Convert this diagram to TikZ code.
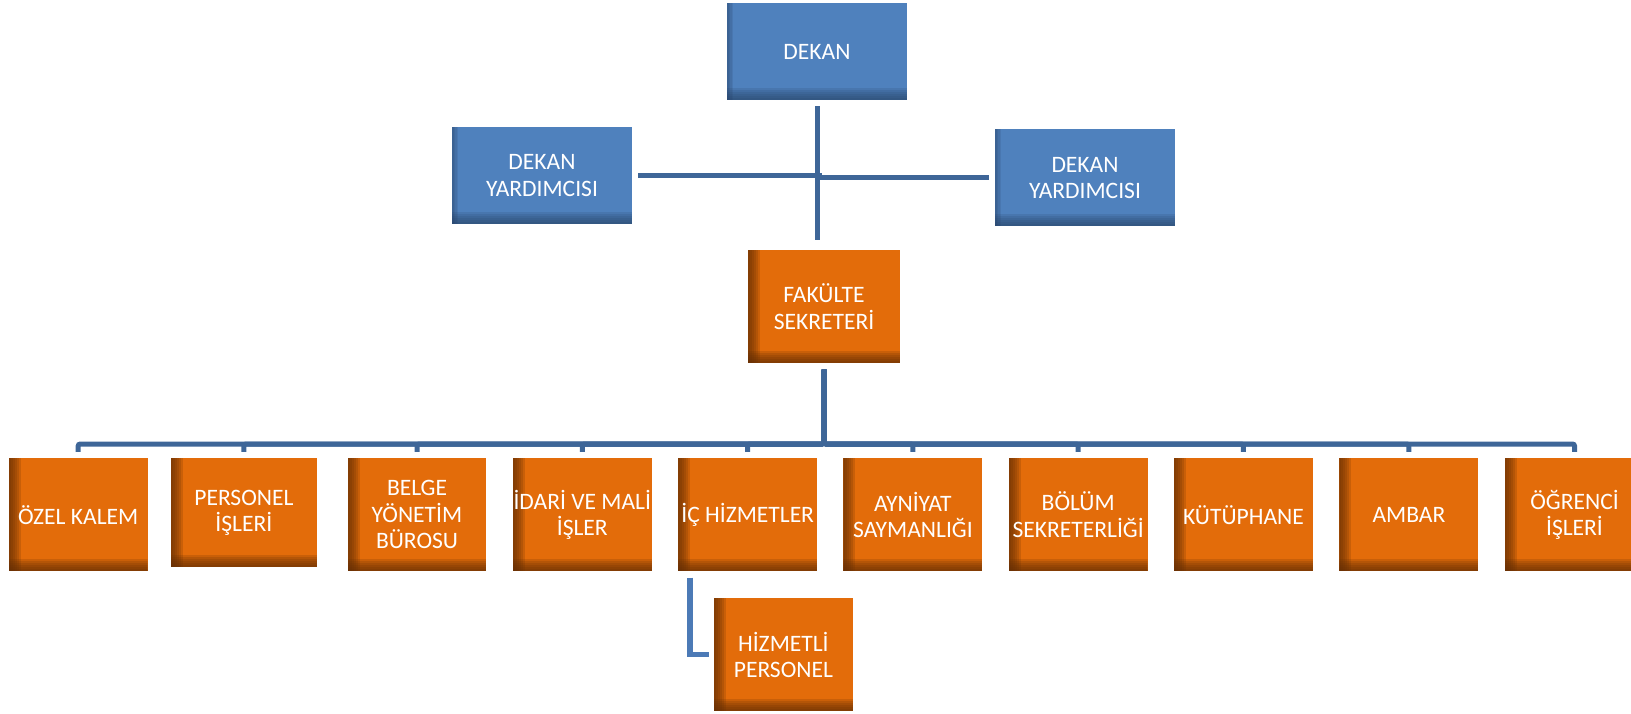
\documentclass[tikz,border=0pt]{standalone}
\usepackage{fontspec}
\setmainfont{Carlito}
\usetikzlibrary{positioning}
\definecolor{dekanblue}{RGB}{79,129,189}
\definecolor{dekandark}{RGB}{40,68,104}
\definecolor{birimorange}{RGB}{227,108,10}
\definecolor{birimdark}{RGB}{100,46,4}
\definecolor{linkblue}{RGB}{62,102,152}
\definecolor{linklight}{RGB}{76,122,182}
\tikzset{
    kutu/.style = {rectangle, inner sep=0pt, align=center, text=white, font=\fontsize{13.4}{15}\selectfont},
    mavi/.style = {kutu, fill=dekanblue, minimum width=3.6cm, minimum height=1.94cm,
      path picture={
        \foreach \w in {0.03,0.06,0.09,0.12}
          \fill[dekandark, opacity=0.15] (path picture bounding box.south west) rectangle ([xshift=\w cm]path picture bounding box.north west);
        \foreach \w in {0.04,0.08,0.12,0.16,0.2,0.24}
          \fill[dekandark, opacity=0.17] (path picture bounding box.south west) rectangle ([yshift=\w cm]path picture bounding box.south east);}},
    turuncu/.style = {kutu, fill=birimorange, minimum width=2.78cm, minimum height=2.26cm,
      path picture={
        \foreach \w in {0.04,0.08,0.12,0.16,0.2,0.24}
          \fill[birimdark, opacity=0.2] (path picture bounding box.south west) rectangle ([xshift=\w cm]path picture bounding box.north west);
        \foreach \w in {0.04,0.08,0.12,0.16,0.2,0.24}
          \fill[birimdark, opacity=0.2] (path picture bounding box.south west) rectangle ([yshift=\w cm]path picture bounding box.south east);}},
    hat/.style = {line width=0.1cm, draw=linkblue},
    hatb/.style = {line width=0.11cm, draw=linklight},
    dal/.style = {hat, rounded corners=0.04cm, shorten <=0.12cm, shorten >=0.12cm}
}

\begin{document}
\begin{tikzpicture}[x=0.02cm, y=-0.02cm]
  \useasboundingbox (0,0) rectangle (1631,713);
  \clip (0,0) rectangle (1631,713);

  % ust kisim
  \node[mavi] (dekan) at (817,51.5) {DEKAN};
  \node[mavi] (yrdsol) at (542,175.5) {DEKAN\\YARDIMCISI};
  \node[mavi] (yrdsag) at (1085,177.8) {DEKAN\\YARDIMCISI};
  \node[turuncu, minimum width=3.04cm] (sekreter) at (824,306.7) {FAKÜLTE\\SEKRETERİ};

  \draw[hat, shorten <=0.12cm, shorten >=0.2cm] (dekan.south) -- (dekan.south |- sekreter.north);
  \draw[hat, shorten <=0.12cm, shorten >=-0.09cm] (yrdsol.east) -- (dekan.south |- yrdsol.east);
  \draw[hat, shorten <=0.12cm] (yrdsag.west) -- (dekan.south |- yrdsag.west);

  % birimler
  \node[turuncu] (ozel) at (78.2,514.7) {ÖZEL KALEM};
  \node[turuncu, minimum width=2.93cm, minimum height=2.18cm] (personel) at (243.9,512.7) {PERSONEL\\İŞLERİ};
  \node[turuncu] (belge) at (417,514.7) {BELGE\\YÖNETİM\\BÜROSU};
  \node[turuncu] (idari) at (582.3,514.7) {İDARİ VE MALİ\\İŞLER};
  \node[turuncu] (ichiz) at (747.7,514.7) {İÇ HİZMETLER};
  \node[turuncu] (ayniyat) at (912.9,514.7) {AYNİYAT\\SAYMANLIĞI};
  \node[turuncu] (bolum) at (1078.2,514.7) {BÖLÜM\\SEKRETERLİĞİ};
  \node[turuncu] (kutup) at (1243.4,514.7) {KÜTÜPHANE};
  \node[turuncu] (ambar) at (1408.9,514.7) {AMBAR};
  \node[turuncu] (ogrenci) at (1574.5,514.7) {ÖĞRENCİ\\İŞLERİ};
  \node[turuncu] (hizmetli) at (783.4,654.7) {HİZMETLİ\\PERSONEL};

  \coordinate (bar) at (824,444);
  \draw[dal] (sekreter.south) -- (sekreter.south |- bar) -| (ozel.north);
  \draw[dal] (sekreter.south) -- (sekreter.south |- bar) -| (personel.north);
  \draw[dal] (sekreter.south) -- (sekreter.south |- bar) -| (belge.north);
  \draw[dal] (sekreter.south) -- (sekreter.south |- bar) -| (idari.north);
  \draw[dal] (sekreter.south) -- (sekreter.south |- bar) -| (ichiz.north);
  \draw[dal] (sekreter.south) -- (sekreter.south |- bar) -| (ayniyat.north);
  \draw[dal] (sekreter.south) -- (sekreter.south |- bar) -| (bolum.north);
  \draw[dal] (sekreter.south) -- (sekreter.south |- bar) -| (kutup.north);
  \draw[dal] (sekreter.south) -- (sekreter.south |- bar) -| (ambar.north);
  \draw[dal] (sekreter.south) -- (sekreter.south |- bar) -| (ogrenci.north);

  \draw[hatb, shorten <=0.12cm, shorten >=0.1cm] ([xshift=0.24cm]ichiz.south west) |- (hizmetli.west);
\end{tikzpicture}
\end{document}
